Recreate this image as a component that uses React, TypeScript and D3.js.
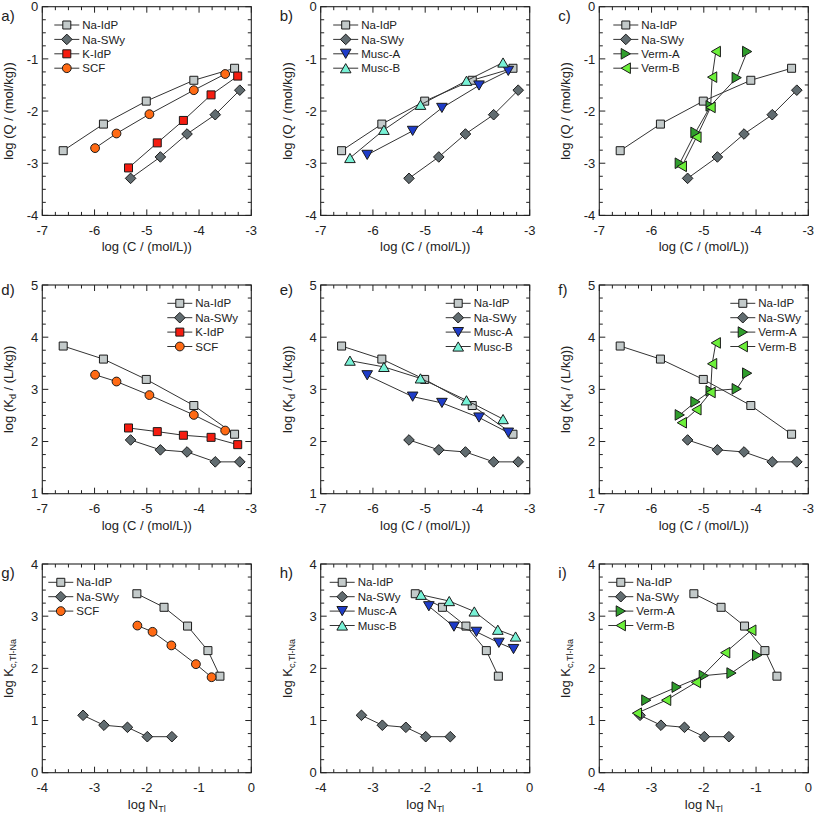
import React from "react";
import * as d3 from "d3";

// ---------- data ----------
// log C (mol/L), log Q (mol/kg), log Kd (L/kg)
const naIdpC = [-6.6, -5.83, -5.01, -4.1, -3.32];
const naIdpQ = [-2.76, -2.25, -1.81, -1.41, -1.18];
const naIdpKd = [3.83, 3.58, 3.19, 2.69, 2.14];
const naSwyC = [-5.31, -4.74, -4.23, -3.69, -3.22];
const naSwyQ = [-3.29, -2.88, -2.44, -2.07, -1.6];
const naSwyKd = [2.03, 1.84, 1.8, 1.61, 1.61];
const kIdpC = [-5.35, -4.8, -4.3, -3.77, -3.26];
const kIdpQ = [-3.09, -2.61, -2.18, -1.69, -1.33];
const kIdpKd = [2.26, 2.19, 2.12, 2.08, 1.94];
const scfC = [-5.99, -5.58, -4.95, -4.1, -3.5];
const scfQ = [-2.71, -2.43, -2.06, -1.6, -1.29];
const scfKd = [3.28, 3.15, 2.89, 2.51, 2.21];
const muscAC = [-6.11, -5.24, -4.68, -3.97, -3.41];
const muscAQ = [-2.84, -2.38, -1.94, -1.51, -1.23];
const muscAKd = [3.27, 2.86, 2.74, 2.46, 2.17];
const muscBC = [-6.44, -5.79, -5.09, -4.21, -3.51];
const muscBQ = [-2.9, -2.36, -1.88, -1.42, -1.07];
const muscBKd = [3.55, 3.43, 3.21, 2.79, 2.43];
const vermAC = [-5.46, -5.16, -4.87, -4.37, -4.17];
const vermAQ = [-3.0, -2.41, -1.9, -1.36, -0.86];
const vermAKd = [2.51, 2.76, 2.97, 3.01, 3.31];
const vermBC = [-5.42, -5.14, -4.87, -4.84, -4.77];
const vermBQ = [-3.06, -2.5, -1.93, -1.35, -0.86];
const vermBKd = [2.36, 2.61, 2.94, 3.49, 3.89];

// log N_Tl, log Kc,Tl-Na
const naIdpN = [-2.19, -1.67, -1.22, -0.83, -0.6];
const naIdpKc = [3.43, 3.17, 2.81, 2.34, 1.85];
const naSwyN = [-3.22, -2.82, -2.37, -1.99, -1.52];
const naSwyKc = [1.1, 0.91, 0.87, 0.69, 0.69];
const scfN = [-2.18, -1.89, -1.53, -1.06, -0.76];
const scfKc = [2.82, 2.7, 2.44, 2.08, 1.83];
const muscAN = [-1.93, -1.45, -1.02, -0.59, -0.31];
const muscAKc = [3.19, 2.8, 2.7, 2.49, 2.37];
const muscBN = [-2.08, -1.54, -1.06, -0.61, -0.27];
const muscBKc = [3.41, 3.29, 3.09, 2.74, 2.61];
const vermAN = [-3.1, -2.52, -2.0, -1.47, -0.98];
const vermAKc = [1.39, 1.64, 1.86, 1.91, 2.25];
const vermBN = [-3.28, -2.72, -2.15, -1.59, -1.09];
const vermBKc = [1.14, 1.39, 1.73, 2.3, 2.73];

const xTicksC = [-7, -6, -5, -4, -3];
const xTicksN = [-4, -3, -2, -1, 0];
const yTicksQ = [-4, -3, -2, -1, 0];
const yTicksKd = [1, 2, 3, 4, 5];
const yTicksKc = [0, 1, 2, 3, 4];

// ---------- styles ----------
const FONT = "'Liberation Sans', Arial, Helvetica, sans-serif";
const STYLE: Record<string, { shape: string; fill: string }> = {
  "Na-IdP": { shape: "square", fill: "#c3caca" },
  "Na-SWy": { shape: "diamond", fill: "#616c70" },
  "K-IdP": { shape: "square", fill: "#f51c10" },
  SCF: { shape: "circle", fill: "#ff6a14" },
  "Musc-A": { shape: "triDown", fill: "#1e3cc8" },
  "Musc-B": { shape: "triUp", fill: "#78f2d6" },
  "Verm-A": { shape: "triRight", fill: "#2f9e2c" },
  "Verm-B": { shape: "triLeft", fill: "#6cf03a" },
};

const COL_LEFT = [42.3, 320.7, 599.3];
const ROW_TOP = [6.7, 285, 564];
const W = 209;
const H = 208.7;

function Marker({ shape, fill, x, y }: { shape: string; fill: string; x: number; y: number }) {
  const common = { fill, stroke: "#1a1a1a", strokeWidth: 1 };
  const t = `translate(${x},${y})`;
  if (shape === "circle") return <circle cx={x} cy={y} r={4.4} {...common} />;
  let d = "";
  if (shape === "square") d = "M-4,-4h8v8h-8z";
  else if (shape === "diamond") d = "M0,-5.3L5.3,0L0,5.3L-5.3,0Z";
  else if (shape === "triUp") d = "M0,-4.6L5.3,4.6L-5.3,4.6Z";
  else if (shape === "triDown") d = "M0,4.6L5.3,-4.6L-5.3,-4.6Z";
  else if (shape === "triRight") d = "M4.6,0L-4.6,-5.3L-4.6,5.3Z";
  else if (shape === "triLeft") d = "M-4.6,0L4.6,-5.3L4.6,5.3Z";
  return <path d={d} transform={t} {...common} />;
}

type Series = { name: string; xs: number[]; ys: number[] };

type PanelProps = {
  col: number;
  row: number;
  letter: string;
  xDomain: [number, number];
  yDomain: [number, number];
  xTicks: number[];
  yTicks: number[];
  series: Series[];
  legendDx: number;
  xLabel: React.ReactNode;
  yLabel: React.ReactNode;
};

function Panel(p: PanelProps) {
  const left = COL_LEFT[p.col];
  const top = ROW_TOP[p.row];
  const x = d3.scaleLinear().domain(p.xDomain).range([left, left + W]);
  const y = d3.scaleLinear().domain(p.yDomain).range([top + H, top]);
  const line = d3.line<[number, number]>().x((d) => x(d[0])).y((d) => y(d[1]));
  const minorX = d3.range(p.xDomain[0], p.xDomain[1] + 1e-9, 0.25);
  const minorY = d3.range(p.yDomain[0], p.yDomain[1] + 1e-9, 0.25);
  const isMajor = (v: number) => Math.abs(v - Math.round(v)) < 1e-6;
  const bottom = top + H;
  const right = left + W;
  const tickEls: React.ReactNode[] = [];
  minorX.forEach((v, i) => {
    const L = isMajor(v) ? 6 : 3.5;
    const px = x(v);
    tickEls.push(<line key={"xb" + i} x1={px} x2={px} y1={bottom} y2={bottom - L} />);
    tickEls.push(<line key={"xt" + i} x1={px} x2={px} y1={top} y2={top + L} />);
  });
  minorY.forEach((v, i) => {
    const L = isMajor(v) ? 6 : 3.5;
    const py = y(v);
    tickEls.push(<line key={"yl" + i} x1={left} x2={left + L} y1={py} y2={py} />);
    tickEls.push(<line key={"yr" + i} x1={right} x2={right - L} y1={py} y2={py} />);
  });
  const legendX = left + p.legendDx;
  const legendY0 = top + 18.3;
  return (
    <g fontFamily={FONT}>
      {p.series.map((s) => {
        const st = STYLE[s.name];
        const pts = s.xs.map((v, i) => [v, s.ys[i]] as [number, number]);
        return (
          <g key={s.name}>
            <path d={line(pts) || ""} fill="none" stroke="#333" strokeWidth={1} />
            {pts.map((pt, i) => (
              <Marker key={i} shape={st.shape} fill={st.fill} x={x(pt[0])} y={y(pt[1])} />
            ))}
          </g>
        );
      })}
      <rect x={left} y={top} width={W} height={H} fill="none" stroke="#222" strokeWidth={1.1} />
      <g stroke="#222" strokeWidth={1}>{tickEls}</g>
      {p.xTicks.map((v) => (
        <text key={"xl" + v} x={x(v)} y={bottom + 10} dy="0.71em" textAnchor="middle" fontSize={13} fill="#222">
          {v}
        </text>
      ))}
      {p.yTicks.map((v) => (
        <text key={"yl" + v} x={left - 4} y={y(v)} dy="0.36em" textAnchor="end" fontSize={13} fill="#222">
          {v}
        </text>
      ))}
      <text x={left + W / 2} y={bottom + 36} textAnchor="middle" fontSize={13} fill="#222" style={{ whiteSpace: "pre" }}>
        {p.xLabel}
      </text>
      <text
        transform={`translate(${left - 29},${top + H / 2}) rotate(-90)`}
        textAnchor="middle"
        fontSize={13}
        fill="#222"
        style={{ whiteSpace: "pre" }}
      >
        {p.yLabel}
      </text>
      <text x={left - 41} y={top + (p.row === 1 ? 10 : 14)} fontSize={15} fill="#222">
        {p.letter}
      </text>
      {p.series.map((s, i) => {
        const st = STYLE[s.name];
        const ly = legendY0 + i * 14.4;
        return (
          <g key={"lg" + s.name}>
            <line x1={legendX} x2={legendX + 25} y1={ly} y2={ly} stroke="#333" strokeWidth={1} />
            <Marker shape={st.shape} fill={st.fill} x={legendX + 12.5} y={ly} />
            <text x={legendX + 28} y={ly} dy="0.36em" fontSize={11.5} fill="#222">
              {s.name}
            </text>
          </g>
        );
      })}
    </g>
  );
}

const xLabelC = "log (C / (mol/L))";
const xLabelN = (
  <>
    <tspan>log N</tspan>
    <tspan fontSize={9} dy={3}>Tl</tspan>
  </>
);
const yLabelQ = "log (Q / (mol/kg))";
const yLabelKd = (
  <>
    <tspan>log (K</tspan>
    <tspan fontSize={9} dy={3}>d</tspan>
    <tspan dy={-3}> / (L/kg))</tspan>
  </>
);
const yLabelKc = (
  <>
    <tspan>log K</tspan>
    <tspan fontSize={9} dy={3}>c,Tl-Na</tspan>
  </>
);

export default function App() {
  const sQ = {
    naIdp: { name: "Na-IdP", xs: naIdpC, ys: naIdpQ },
    naSwy: { name: "Na-SWy", xs: naSwyC, ys: naSwyQ },
  };
  const sKd = {
    naIdp: { name: "Na-IdP", xs: naIdpC, ys: naIdpKd },
    naSwy: { name: "Na-SWy", xs: naSwyC, ys: naSwyKd },
  };
  const sKc = {
    naIdp: { name: "Na-IdP", xs: naIdpN, ys: naIdpKc },
    naSwy: { name: "Na-SWy", xs: naSwyN, ys: naSwyKc },
  };
  const cProps = { xDomain: [-7, -3] as [number, number], xTicks: xTicksC, xLabel: xLabelC };
  const nProps = { xDomain: [-4, 0] as [number, number], xTicks: xTicksN, xLabel: xLabelN };
  const qProps = { yDomain: [-4, 0] as [number, number], yTicks: yTicksQ, yLabel: yLabelQ };
  const kdProps = { yDomain: [1, 5] as [number, number], yTicks: yTicksKd, yLabel: yLabelKd };
  const kcProps = { yDomain: [0, 4] as [number, number], yTicks: yTicksKc, yLabel: yLabelKc };
  return (
    <svg
      width={815}
      height={815}
      viewBox="0 0 815 815"
      style={{ position: "absolute", left: 0, top: 0, background: "#fff" }}
    >
      <rect width={815} height={815} fill="#fff" />
      <Panel col={0} row={0} letter="a)" legendDx={12} {...cProps} {...qProps}
        series={[sQ.naIdp, sQ.naSwy, { name: "K-IdP", xs: kIdpC, ys: kIdpQ }, { name: "SCF", xs: scfC, ys: scfQ }]} />
      <Panel col={1} row={0} letter="b)" legendDx={12.5} {...cProps} {...qProps}
        series={[sQ.naIdp, sQ.naSwy, { name: "Musc-A", xs: muscAC, ys: muscAQ }, { name: "Musc-B", xs: muscBC, ys: muscBQ }]} />
      <Panel col={2} row={0} letter="c)" legendDx={14} {...cProps} {...qProps}
        series={[sQ.naIdp, sQ.naSwy, { name: "Verm-A", xs: vermAC, ys: vermAQ }, { name: "Verm-B", xs: vermBC, ys: vermBQ }]} />
      <Panel col={0} row={1} letter="d)" legendDx={125} {...cProps} {...kdProps}
        series={[sKd.naIdp, sKd.naSwy, { name: "K-IdP", xs: kIdpC, ys: kIdpKd }, { name: "SCF", xs: scfC, ys: scfKd }]} />
      <Panel col={1} row={1} letter="e)" legendDx={125} {...cProps} {...kdProps}
        series={[sKd.naIdp, sKd.naSwy, { name: "Musc-A", xs: muscAC, ys: muscAKd }, { name: "Musc-B", xs: muscBC, ys: muscBKd }]} />
      <Panel col={2} row={1} letter="f)" legendDx={131} {...cProps} {...kdProps}
        series={[sKd.naIdp, sKd.naSwy, { name: "Verm-A", xs: vermAC, ys: vermAKd }, { name: "Verm-B", xs: vermBC, ys: vermBKd }]} />
      <Panel col={0} row={2} letter="g)" legendDx={6} {...nProps} {...kcProps}
        series={[sKc.naIdp, sKc.naSwy, { name: "SCF", xs: scfN, ys: scfKc }]} />
      <Panel col={1} row={2} letter="h)" legendDx={9} {...nProps} {...kcProps}
        series={[sKc.naIdp, sKc.naSwy, { name: "Musc-A", xs: muscAN, ys: muscAKc }, { name: "Musc-B", xs: muscBN, ys: muscBKc }]} />
      <Panel col={2} row={2} letter="i)" legendDx={9} {...nProps} {...kcProps}
        series={[sKc.naIdp, sKc.naSwy, { name: "Verm-A", xs: vermAN, ys: vermAKc }, { name: "Verm-B", xs: vermBN, ys: vermBKc }]} />
    </svg>
  );
}
